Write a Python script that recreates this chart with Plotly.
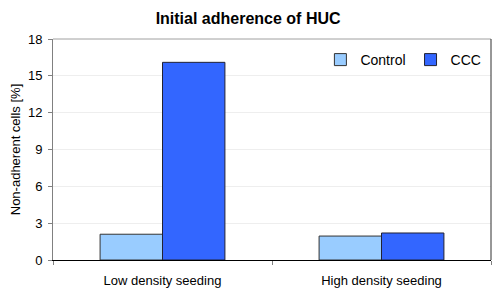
import plotly.graph_objects as go

categories = ["Low density seeding", "High density seeding"]
control_values = [2.1, 1.95]
ccc_values = [16.1, 2.2]
y_ticks = [0, 3, 6, 9, 12, 15, 18]

fig = go.Figure()
fig.add_trace(go.Bar(name="Control", x=categories, y=control_values,
                     marker=dict(color="#99CCFF", line=dict(color="#333333", width=1))))
fig.add_trace(go.Bar(name="CCC", x=categories, y=ccc_values,
                     marker=dict(color="#3366FF", line=dict(color="#222233", width=1))))

# page has an 8px body margin, so the figure is drawn 8px smaller and offset
fig.update_layout(
    width=492, height=286,
    margin=dict(l=45, r=9, t=31, b=34, autoexpand=False),
    paper_bgcolor="white", plot_bgcolor="white",
    font=dict(family="Liberation Sans, Arial", size=13, color="black"),
    title=dict(text="<b>Initial adherence of HUC</b>", x=0.488, xanchor="center",
               y=0.982, yanchor="top", pad=dict(t=0, b=0), font=dict(size=16)),
    barmode="group", bargap=0.43, bargroupgap=0,
    showlegend=True,
    legend=dict(orientation="h", x=0.8, xanchor="center", y=0.905, yanchor="middle",
                font=dict(size=14), bgcolor="rgba(0,0,0,0)",
                itemwidth=30, tracegroupgap=0),
    xaxis=dict(showline=True, linecolor="black", linewidth=1, automargin=False,
               ticks="outside", tickson="boundaries", ticklen=4, tickcolor="#808080",
               ticklabelstandoff=8,
               tickfont=dict(size=13), showgrid=False),
    yaxis=dict(range=[0, 18], tickvals=y_ticks, showline=True, linecolor="#808080",
               linewidth=1, ticks="outside", ticklen=4, tickcolor="#808080",
               automargin=False, ticklabelstandoff=3,
               showgrid=True, gridcolor="#EEEEEE", gridwidth=1, zeroline=False,
               tickfont=dict(size=13),
               title=dict(text="Non-adherent cells [%]", font=dict(size=13), standoff=8)),
)
fig.add_shape(type="line", xref="x domain", yref="y domain", x0=0, x1=1, y0=1, y1=1,
              line=dict(color="#A0A0A0", width=1))
fig.add_shape(type="line", xref="x domain", yref="y domain", x0=1, x1=1, y0=0, y1=1,
              line=dict(color="#303030", width=1))

fig.write_html("out.html")
